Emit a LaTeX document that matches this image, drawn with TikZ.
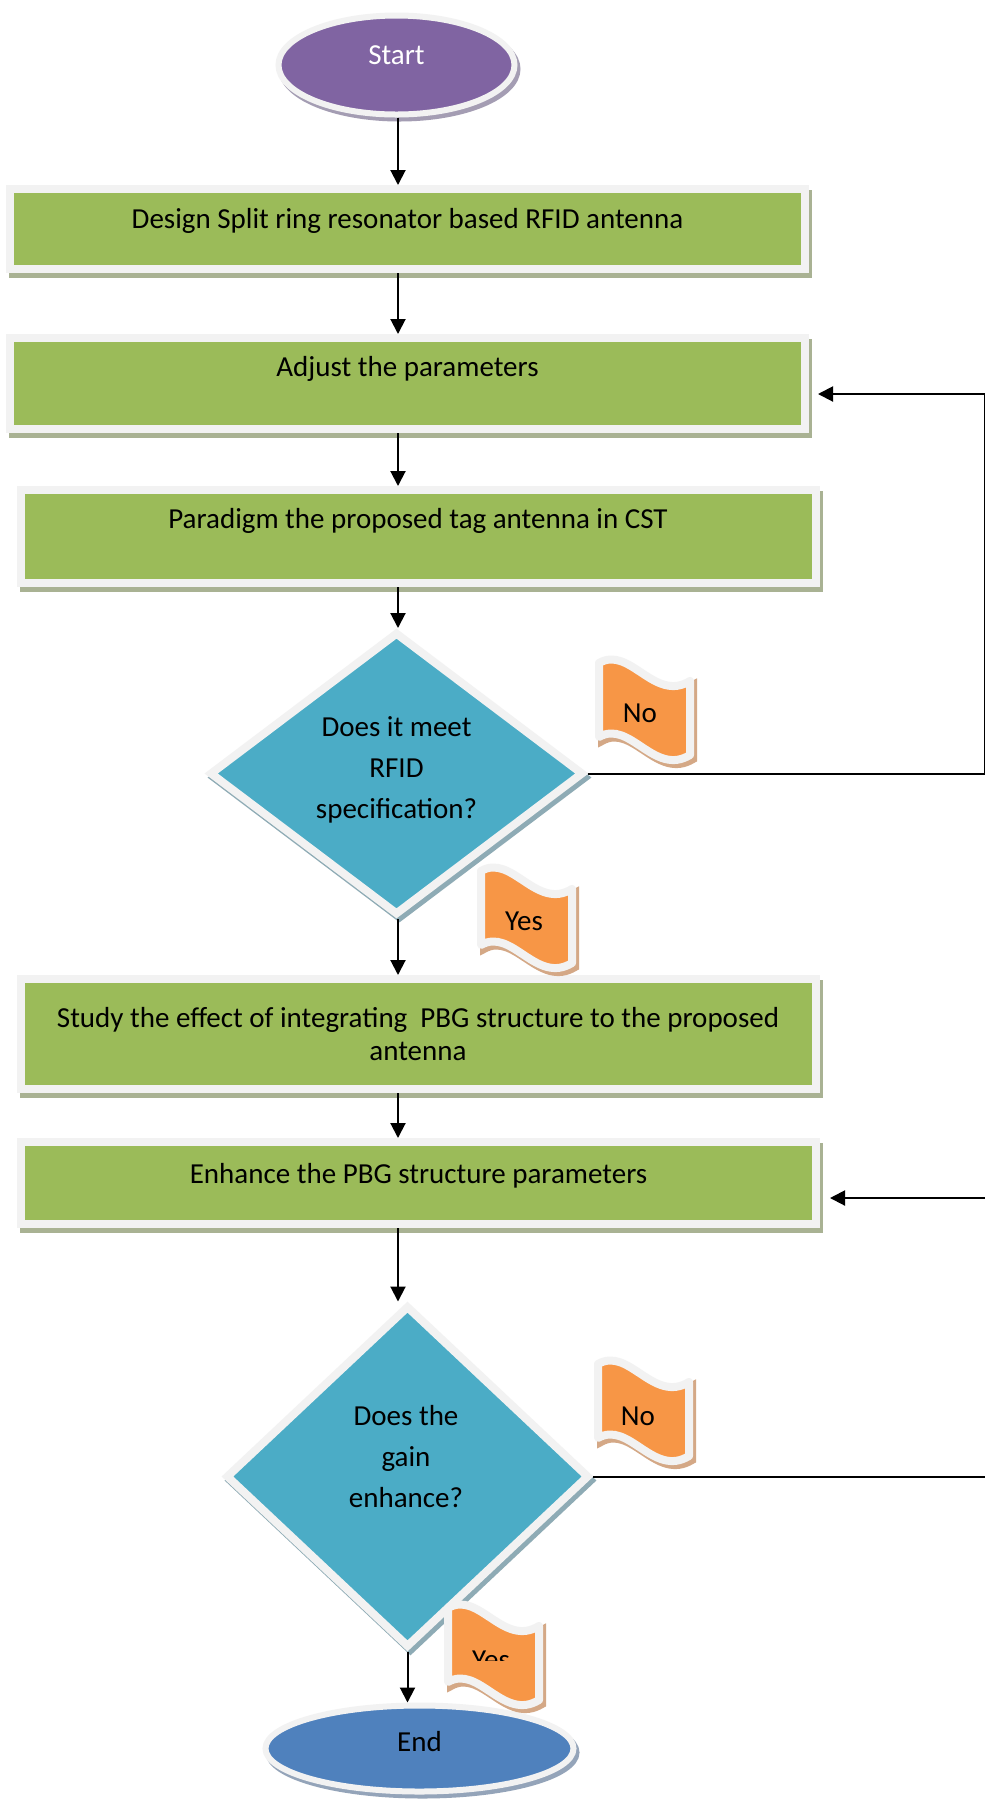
\documentclass[tikz,border=0pt]{standalone}
\usepackage{fontspec}
\setmainfont{Carlito}
\usetikzlibrary{shapes.geometric}
\usetikzlibrary{shadows}
\usetikzlibrary{arrows.meta}

\definecolor{rim}{HTML}{F2F2F2}
\definecolor{boxgreen}{HTML}{9BBB59}
\definecolor{greenshade}{HTML}{A9B293}
\definecolor{diateal}{HTML}{4BACC6}
\definecolor{tealshade}{HTML}{8EABB5}
\definecolor{flagorange}{HTML}{F79646}
\definecolor{flagshade}{HTML}{D4A886}
\definecolor{startpurple}{HTML}{8064A2}
\definecolor{purpleshade}{HTML}{A49DB3}
\definecolor{endblue}{HTML}{4F81BD}
\definecolor{blueshade}{HTML}{94A4B9}

\tikzset{
  txt/.style={font=\fontsize{14.5}{16.5}\selectfont, inner sep=0pt},
  asktxt/.style={font=\fontsize{14.5}{20.5}\selectfont, inner sep=0pt, align=center},
  stepbox/.style={txt, rectangle, fill=boxgreen, draw=rim, line width=4pt, minimum width=397.5pt,
    general shadow={fill=greenshade, draw=greenshade, line width=4pt, shadow xshift=1.5pt, shadow yshift=-2.5pt}},
  decision/.style={diamond, fill=diateal, draw=rim, line width=4pt, inner sep=0pt,
    general shadow={fill=tealshade, draw=tealshade, line width=4pt, shadow xshift=1.5pt, shadow yshift=-2pt}},
  terminal/.style={txt, ellipse, draw=rim, line width=3pt, text height=11pt,
    general shadow={fill=#1, draw=#1, line width=3pt, shadow xshift=1.5pt, shadow yshift=-2pt}},
  arr/.style={line width=1pt, -{Triangle[length=7.5pt,width=7.5pt]}},
  waveflag/.pic={
    \path[fill=flagorange, draw=rim, line width=4pt, line join=round,
      general shadow={fill=flagshade, draw=flagshade, line width=4pt, shadow xshift=1.5pt, shadow yshift=-2pt}]
      (0,0) .. controls (31,-18) and (55,40) .. (91,18) -- (91,92)
      .. controls (55,114) and (31,56) .. (0,74) -- cycle;
  }
}

\begin{document}
\begin{tikzpicture}[x=0.5pt, y=-0.5pt]

\useasboundingbox[fill=white] (0,0) rectangle (985,1801);
\clip (0,0) rectangle (985,1801);
\coordinate (col) at (398,0);

\node[terminal=purpleshade, fill=startpurple, text=white, minimum width=118pt, minimum height=49.5pt, text depth=11.2pt] (start) at (396.5,65) {Start};
\node[stepbox, minimum height=40pt, text height=11pt, text depth=11.2pt] (box1) at (407.5,229) {Design Split ring resonator based RFID antenna};
\node[stepbox, minimum height=45.5pt, text height=11pt, text depth=17.7pt] (box2) at (407.5,383.5) {Adjust the parameters};
\node[stepbox, minimum height=46.5pt, text height=11pt, text depth=18.7pt] (box3) at (418,536.5) {Paradigm the proposed tag antenna in CST};
\node[decision, minimum width=187pt, minimum height=141.5pt] (dia1) at (396.5,773.5) {};
\node[asktxt] (dia1txt) at (396.5,770) {Does it meet\\RFID\\specification?};
\node[stepbox, minimum height=55pt, align=center] (box4) at (418,1034) {Study the effect of integrating~ PBG structure to the proposed\\antenna};
\node[stepbox, minimum height=41pt, text height=11pt, text depth=10.2pt] (box5) at (418.5,1183) {Enhance the PBG structure parameters};
\node[decision, minimum width=181.7pt, minimum height=171pt] (dia2) at (407.5,1476.5) {};
\node[asktxt] (dia2txt) at (406,1457) {Does the\\gain\\enhance?};
\node[terminal=blueshade, fill=endblue, minimum width=154pt, minimum height=43pt, text depth=7.7pt] (stop) at (419.5,1748.5) {End};

\pic at (599,663) {waveflag};
\node[txt] (no1) at (640,713) {No};
\pic at (481,871) {waveflag};
\node[txt] (yes1) at (524,921) {Yes};
\pic at (598,1364) {waveflag};
\node[txt] (no2) at (638,1416) {No};
\pic at (448,1608) {waveflag};
\begin{scope}
\clip (440,1600) rectangle (560,1660);
\node[txt] (yes2) at (491,1660) {Yes};
\end{scope}

\draw[arr] (start.south -| col) -- (box1.north -| col);
\draw[arr] (box1.south -| col) -- (box2.north -| col);
\draw[arr] (box2.south -| col) -- (box3.north -| col);
\draw[arr] (box3.south -| col) -- (dia1.north -| col);
\draw[arr] (dia1.south -| col) -- (box4.north -| col);
\draw[arr] (box4.south -| col) -- (box5.north -| col);
\draw[arr] (box5.south -| col) -- (dia2.north -| col);
\draw[arr] (dia2.south) -- (dia2.south |- stop.north);

\coordinate (edge1) at (984.5,394);
\coordinate (ret1) at (818,394);
\draw[arr] (dia1.east) -| (edge1) -- (ret1);
\coordinate (edge2) at (993,1198);
\coordinate (ret2) at (830,1198);
\draw[arr] (dia2.east) -| (edge2) -- (ret2);

\end{tikzpicture}
\end{document}
